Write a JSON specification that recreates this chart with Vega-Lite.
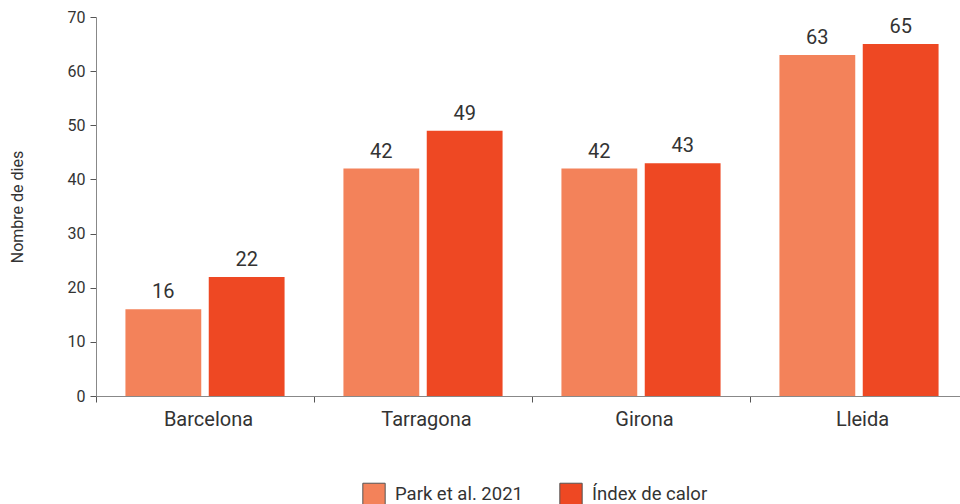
{
  "$schema": "https://vega.github.io/schema/vega-lite/v6.json",
  "width": 872,
  "height": 379,
  "autosize": {"type": "none"},
  "padding": {"left": 96, "top": 17, "right": -8, "bottom": 108},
  "config": {
    "font": "Roboto",
    "view": {"stroke": null},
    "axis": {"labelFont": "Roboto", "titleFont": "Roboto", "labelColor": "#333333", "titleColor": "#333333", "domainColor": "#888888", "tickColor": "#555555", "grid": false}
  },
  "data": {
    "values": [
      {"ciutat": "Barcelona", "serie": "Park et al. 2021", "dies": 16},
      {"ciutat": "Barcelona", "serie": "Índex de calor", "dies": 22},
      {"ciutat": "Tarragona", "serie": "Park et al. 2021", "dies": 42},
      {"ciutat": "Tarragona", "serie": "Índex de calor", "dies": 49},
      {"ciutat": "Girona", "serie": "Park et al. 2021", "dies": 42},
      {"ciutat": "Girona", "serie": "Índex de calor", "dies": 43},
      {"ciutat": "Lleida", "serie": "Park et al. 2021", "dies": 63},
      {"ciutat": "Lleida", "serie": "Índex de calor", "dies": 65}
    ]
  },
  "encoding": {
    "x": {
      "field": "ciutat", "type": "nominal", "sort": ["Barcelona", "Tarragona", "Girona", "Lleida"],
      "scale": {"paddingInner": 0.27, "paddingOuter": 0.135},
      "axis": {"title": null, "labelAngle": 0, "labelFontSize": 20, "labelPadding": 7, "bandPosition": 0, "tickOffset": -29, "labelOffset": 32, "tickSize": 6, "domainColor": "#888888"}
    },
    "xOffset": {"field": "serie", "type": "nominal", "sort": ["Park et al. 2021", "Índex de calor"], "scale": {"paddingInner": 0.09, "paddingOuter": 0}},
    "y": {
      "field": "dies", "type": "quantitative",
      "scale": {"domain": [0, 70], "nice": false},
      "axis": {"title": "Nombre de dies", "titleFontSize": 16, "titleFontWeight": "normal", "titlePadding": 42, "labelFontSize": 16, "labelOverlap": false, "values": [0,10,20,30,40,50,60,70], "tickSize": 6, "labelPadding": 5}
    }
  },
  "layer": [
    {
      "mark": {"type": "bar"},
      "encoding": {
        "color": {
          "field": "serie", "type": "nominal",
          "scale": {"domain": ["Park et al. 2021", "Índex de calor"], "range": ["#F3825A", "#EE4823"]},
          "legend": {
            "title": null, "orient": "none", "legendX": 266, "legendY": 465, "direction": "horizontal",
            "symbolType": "square", "symbolSize": 500, "symbolStrokeColor": "#555555", "symbolStrokeWidth": 1,
            "labelFontSize": 18.5, "labelColor": "#333333", "labelFont": "Roboto", "columnPadding": 34, "labelOffset": 9
          }
        }
      }
    },
    {
      "mark": {"type": "text", "baseline": "bottom", "dy": -7, "fontSize": 20, "color": "#333333", "font": "Roboto"},
      "encoding": {"text": {"field": "dies", "type": "quantitative"}}
    }
  ]
}
